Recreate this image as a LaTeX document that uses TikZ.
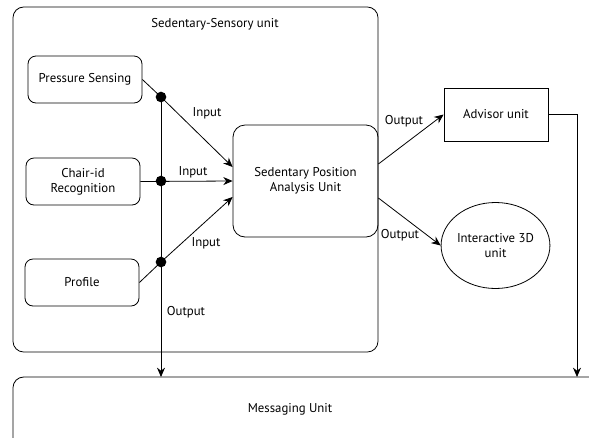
\documentclass[tikz,border=0pt]{standalone}
\usepackage{fontspec}
\setmainfont{PT Sans}
\usetikzlibrary{arrows.meta,shapes.geometric}
\begin{document}
\begin{tikzpicture}[x=0.75pt,y=-0.75pt,
  line width=0.6pt,
  font=\fontsize{9.6}{11.5}\selectfont,
  box/.style={draw,rounded corners=6pt,align=center,inner sep=0pt},
  arr/.style={-{Stealth[length=7pt,width=6pt]}},
  dotn/.style={circle,fill=black,inner sep=0pt,minimum size=8pt},
  lbl/.style={inner sep=1pt}]
\useasboundingbox (0,0) rectangle (589,437);
\begin{scope}
\clip (0,0) rectangle (589,437);
% outer unit
\draw[rounded corners=8pt] (13,7) rectangle (378,352);
\node[lbl] (title) at (215,24) {Sedentary-Sensory unit};
% messaging unit
\draw[rounded corners=8pt] (600,377) -- (13,377) -- (13,450);
\node[lbl] (msg) at (290,409) {Messaging Unit};
\end{scope}
\coordinate (msgL) at (161,377);
\coordinate (msgR) at (577,377);
% boxes
\node[box,minimum width=114pt*0.75,minimum height=47pt*0.75] (ps) at (85,79.5) {Pressure Sensing};
\node[box,minimum width=114pt*0.75,minimum height=47pt*0.75] (cr) at (83,181.5) {Chair-id\\Recognition};
\node[box,minimum width=114pt*0.75,minimum height=47pt*0.75] (pr) at (82,282.5) {Profile};
\node[box,rounded corners=9pt,minimum width=145pt*0.75,minimum height=112pt*0.75] (sp) at (305.5,181) {Sedentary Position\\Analysis Unit};
\node[draw,minimum width=104pt*0.75,minimum height=53pt*0.75,inner sep=0pt] (ad) at (496,114.5) {Advisor unit};
\node[draw,ellipse,minimum width=105pt*0.75,minimum height=86pt*0.75,inner sep=0pt,align=center] (i3) at (495.5,245.5) {Interactive 3D\\unit};
% dots
\node[dotn] (d1) at (161,97) {};
\node[dotn] (d2) at (161,181) {};
\node[dotn] (d3) at (161,262) {};
% connectors
\draw[arr] (ps.east) -- (d1.center) -- (sp.west |- 0,167);
\draw[arr] (cr.east) -- (sp.west);
\draw[arr] (pr.east) -- (d3.center) -- (sp.west |- 0,197);
\draw[arr] (d1.center) -- (msgL);
\draw[arr] (sp.east |- 0,164) -- (ad.west);
\draw[arr] (sp.east |- 0,198) -- (i3.west);
\draw[arr] (ad.east) -| (msgR);
% labels
\node[lbl] at (207,113) {Input};
\node[lbl] at (193,172) {Input};
\node[lbl] at (206,243) {Input};
\node[lbl] at (186,312) {Output};
\node[lbl] at (404,121) {Output};
\node[lbl] at (400,235) {Output};
\end{tikzpicture}
\end{document}
